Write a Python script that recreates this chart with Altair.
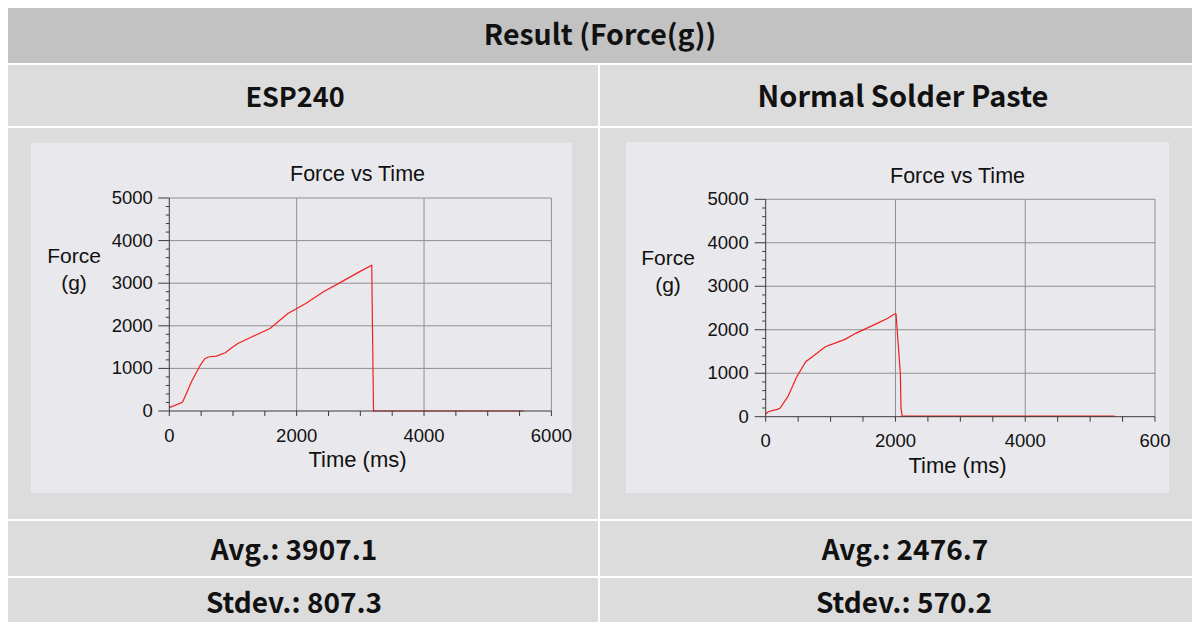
import altair as alt
import pandas as pd

# ---------------- data ----------------
header_title = "Result (Force(g))"
sample_names = ["ESP240", "Normal Solder Paste"]
avg_texts = ["Avg.: 3907.1", "Avg.: 2476.7"]
stdev_texts = ["Stdev.: 807.3", "Stdev.: 570.2"]
chart_title = "Force vs Time"
x_title = "Time (ms)"
y_title_lines = ["Force", "(g)"]

# ESP240 force curve (ms, g)
esp_time = [0, 207, 292, 348, 488, 561, 628, 740, 880, 964, 1077, 1300, 1581,
            1862, 2142, 2422, 2703, 2983, 3179, 3185, 3207, 5562]
esp_force = [78, 203, 492, 688, 1078, 1234, 1273, 1289, 1367, 1469, 1586, 1742, 1937,
             2289, 2523, 2797, 3031, 3266, 3422, 2602, 0, 0]

# Normal solder paste force curve (ms, g)
nsp_time = [0, 39, 176, 220, 341, 479, 617, 754, 919, 1057, 1222, 1387, 1552,
            1718, 1883, 1982, 2009, 2037, 2075, 2086, 2103, 5378]
nsp_force = [61, 115, 169, 192, 460, 920, 1265, 1419, 1610, 1687, 1779, 1917, 2032,
             2147, 2262, 2362, 2362, 1764, 997, 192, 15, 15]

x_tick_values = [0, 500, 1000, 1500, 2000, 2500, 3000, 3500, 4000, 4500, 5000, 5500, 6000]
x_label_values = [0, 2000, 4000, 6000]
x_labels_left = ["0", "2000", "4000", "6000"]
x_labels_right = ["0", "2000", "4000", "600"]
y_major_values = [0, 1000, 2000, 3000, 4000, 5000]
y_major_labels = ["0", "1000", "2000", "3000", "4000", "5000"]
y_minor_values = [200, 400, 600, 800, 1200, 1400, 1600, 1800, 2200, 2400, 2600, 2800,
                  3200, 3400, 3600, 3800, 4200, 4400, 4600, 4800]
x_grid_values = [2000, 4000, 6000]
y_grid_values = [1000, 2000, 3000, 4000, 5000]
x_domain = [0, 6000]
y_domain = [0, 5000]

# ---------------- styling / layout ----------------
W, H = 1184, 614
OFF = 8  # page margin


def px(v):
    return v - OFF


HEADER_BG = "#c2c2c2"
ROW_BG = "#dcdcdc"
BOX_BG = "#e9e8ec"
GRID = "#8f8f8f"
AXIS = "#3a3a3a"
RED = "#f02020"
TXT = "#111111"
KFONT = "Noto Sans CJK KR"
CFONT = "Liberation Sans"

one = pd.DataFrame({"a": [0]})


def rect(x1, y1, x2, y2, color):
    return alt.Chart(one).mark_rect(color=color, strokeWidth=0).encode(
        x=alt.value(px(x1)), x2=alt.value(px(x2)),
        y=alt.value(px(y1)), y2=alt.value(px(y2)))


def text(x, y, s, size, font, weight="normal", align="center", baseline="alphabetic"):
    return alt.Chart(one).mark_text(
        font=font, fontSize=size, fontWeight=weight, align=align,
        baseline=baseline, color=TXT).encode(
        x=alt.value(px(x)), y=alt.value(px(y)), text=alt.value(s))


def panel(times, forces, x0, x1, y0, y1, x_labels, xlab_dy, ylab_dx):
    xs = alt.Scale(domain=x_domain, range=[px(x0), px(x1)], nice=False, zero=False)
    ys = alt.Scale(domain=y_domain, range=[px(y0), px(y1)], nice=False, zero=False)

    def X(f):
        return alt.X(f, scale=xs, axis=None)

    def Y(f):
        return alt.Y(f, scale=ys, axis=None)

    hg = pd.DataFrame({"v": y_grid_values, "a": [x_domain[0]] * len(y_grid_values),
                       "b": [x_domain[1]] * len(y_grid_values)})
    vg = pd.DataFrame({"v": x_grid_values, "a": [y_domain[0]] * len(x_grid_values),
                       "b": [y_domain[1]] * len(x_grid_values)})
    hgrid = alt.Chart(hg).mark_rule(color=GRID, strokeWidth=1).encode(
        y=Y("v:Q"), x=X("a:Q"), x2="b:Q")
    vgrid = alt.Chart(vg).mark_rule(color=GRID, strokeWidth=1).encode(
        x=X("v:Q"), y=Y("a:Q"), y2="b:Q")

    df = pd.DataFrame({"t": times, "f": forces})
    line = alt.Chart(df).mark_line(color=RED, strokeWidth=1.2).encode(
        x=X("t:Q"), y=Y("f:Q"), order="t:Q")

    # axis lines
    dom = pd.DataFrame({"x0": [x_domain[0]], "x1": [x_domain[1]],
                        "y0": [y_domain[0]], "y1": [y_domain[1]]})
    xdomain = alt.Chart(dom).mark_rule(color=AXIS, strokeWidth=1).encode(
        x=X("x0:Q"), x2="x1:Q", y=Y("y0:Q"))
    ydomain = alt.Chart(dom).mark_rule(color=AXIS, strokeWidth=1).encode(
        y=Y("y0:Q"), y2="y1:Q", x=X("x0:Q"))

    # x ticks + labels
    xt = pd.DataFrame({"v": x_tick_values, "z": [y_domain[0]] * len(x_tick_values)})
    xticks = alt.Chart(xt).mark_rule(color=AXIS, strokeWidth=1, y2Offset=5).encode(
        x=X("v:Q"), y=Y("z:Q"), y2="z:Q")
    xl = pd.DataFrame({"v": x_label_values, "lab": x_labels,
                       "z": [y_domain[0]] * len(x_label_values)})
    xlabels = alt.Chart(xl).mark_text(
        font=CFONT, fontSize=18.5, color=TXT, align="center", baseline="top",
        dy=xlab_dy).encode(x=X("v:Q"), y=Y("z:Q"), text="lab:N")

    # y ticks + labels
    ymj = pd.DataFrame({"v": y_major_values, "lab": y_major_labels,
                        "z": [x_domain[0]] * len(y_major_values)})
    ymn = pd.DataFrame({"v": y_minor_values, "z": [x_domain[0]] * len(y_minor_values)})
    ymajor = alt.Chart(ymj).mark_rule(color=AXIS, strokeWidth=1, x2Offset=-11).encode(
        y=Y("v:Q"), x=X("z:Q"), x2="z:Q")
    yminor = alt.Chart(ymn).mark_rule(color=AXIS, strokeWidth=1, x2Offset=-3.5).encode(
        y=Y("v:Q"), x=X("z:Q"), x2="z:Q")
    ylabels = alt.Chart(ymj).mark_text(
        font=CFONT, fontSize=18.5, color=TXT, align="right", baseline="middle",
        dx=ylab_dx).encode(y=Y("v:Q"), x=X("z:Q"), text="lab:N")

    return alt.layer(hgrid, vgrid, line, xdomain, ydomain, xticks, xlabels,
                     ymajor, yminor, ylabels)


layers = [
    # table cells
    rect(0, 0, 1200, 63, HEADER_BG),
    rect(0, 65, 598, 126, ROW_BG), rect(600, 65, 1200, 126, ROW_BG),
    rect(0, 128, 598, 519, ROW_BG), rect(600, 128, 1200, 519, ROW_BG),
    rect(0, 521, 598, 576, ROW_BG), rect(600, 521, 1200, 576, ROW_BG),
    rect(0, 578, 598, 630, ROW_BG), rect(600, 578, 1200, 630, ROW_BG),
    # chart boxes
    rect(31, 143, 572, 493, BOX_BG), rect(626, 142, 1169, 493, BOX_BG),
    # table texts
    text(600, 45, header_title, 28.5, KFONT, "bold"),
    text(295, 107, sample_names[0], 27, KFONT, "bold"),
    text(903, 107, sample_names[1], 29, KFONT, "bold"),
    text(294, 560, avg_texts[0], 28, KFONT, "bold"),
    text(905, 560, avg_texts[1], 28, KFONT, "bold"),
    text(294, 613, stdev_texts[0], 28, KFONT, "bold"),
    text(904, 613, stdev_texts[1], 28, KFONT, "bold"),
    # chart texts (left)
    text(357.5, 181, chart_title, 21.5, CFONT),
    text(357.5, 467, x_title, 22, CFONT),
    text(74, 263, y_title_lines[0], 21, CFONT),
    text(74, 290, y_title_lines[1], 21, CFONT),
    # chart texts (right)
    text(957.5, 183, chart_title, 21.5, CFONT),
    text(957.5, 473, x_title, 22, CFONT),
    text(668, 265, y_title_lines[0], 21, CFONT),
    text(668, 292, y_title_lines[1], 21, CFONT),
    # plots
    panel(esp_time, esp_force, 169.3, 551.4, 411, 198, x_labels_left, 16, -16.5),
    panel(nsp_time, nsp_force, 765.7, 1155, 416.7, 199.3, x_labels_right, 15.5, -17),
]

chart = alt.layer(*layers).resolve_scale(x="independent", y="independent").properties(
    width=W, height=H, autosize=alt.AutoSizeParams(type="none"), padding=0,
    background="white",
).configure_view(stroke=None)

chart.save("out.html", embed_options={"renderer": "svg", "actions": False})
